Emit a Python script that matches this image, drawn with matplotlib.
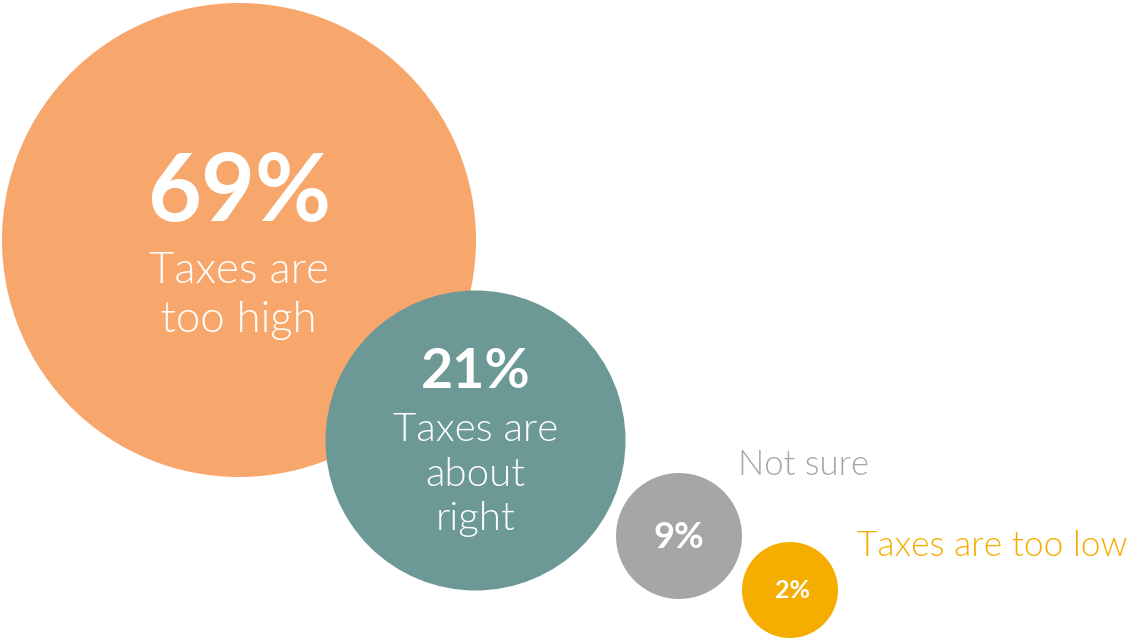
import matplotlib.pyplot as plt
from matplotlib.patches import Circle

# survey answers (percent)
values = [69, 21, 9, 2]
pct_labels = ["69%", "21%", "9%", "2%"]
answers = ["Taxes are\ntoo high", "Taxes are\nabout\nright", "Not sure", "Taxes are too low"]
colors = ["#F7A76C", "#6C9996", "#A5A6A8", "#F5AE00"]

# layout in pixel coords (x, y from top-left), radius
centers = [(239, 240), (475.5, 440.5), (679, 536), (790, 590)]
radii = [237, 150, 63, 48]

plt.rcParams['font.family'] = ['Lato', 'DejaVu Sans']

fig = plt.figure(figsize=(11.3, 6.38), dpi=100)
ax = fig.add_axes([0, 0, 1, 1])
ax.set_xlim(0, 1130)
ax.set_ylim(638, 0)
ax.set_aspect('equal')
ax.axis('off')

for i in range(len(values)):
    ax.add_patch(Circle(centers[i], radii[i], color=colors[i], zorder=i + 1, lw=0))

lw_txt = 300

# big circle
cx, cy = centers[0]
ax.text(cx, cy - 46, pct_labels[0], color='white', fontsize=67, fontweight='bold',
        ha='center', va='center', zorder=10)
ax.text(cx, cy + 56, answers[0], color='white', fontsize=31.5, fontweight=lw_txt,
        ha='center', va='center', linespacing=1.32, zorder=10)

# teal circle
cx, cy = centers[1]
ax.text(cx, cy - 69, pct_labels[1], color='white', fontsize=40, fontweight='bold',
        ha='center', va='center', zorder=10)
ax.text(cx, cy + 34, answers[1], color='white', fontsize=29, fontweight=lw_txt,
        ha='center', va='center', linespacing=1.28, zorder=10)

# small circles
cx, cy = centers[2]
ax.text(cx, cy + 1, pct_labels[2], color='white', fontsize=26, fontweight='bold',
        ha='center', va='center', zorder=10)
ax.text(738, 465, answers[2], color=colors[2], fontsize=25, fontweight=lw_txt,
        ha='left', va='center', zorder=10)

cx, cy = centers[3]
ax.text(cx + 3, cy + 1, pct_labels[3], color='white', fontsize=18, fontweight='bold',
        ha='center', va='center', zorder=10)
ax.text(857, 546, answers[3], color=colors[3], fontsize=25.4, fontweight=lw_txt,
        ha='left', va='center', zorder=10)

fig.savefig('out.png', dpi=100, facecolor='white')
